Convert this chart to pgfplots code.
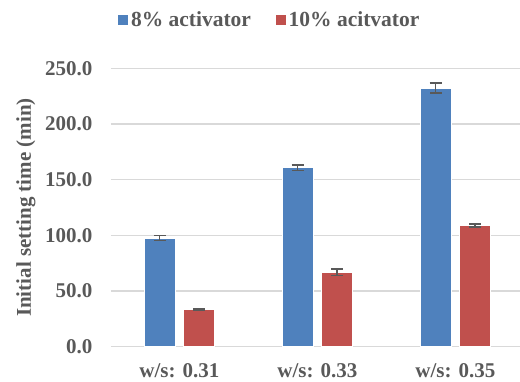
\documentclass[border=0pt]{standalone}
\usepackage{fontspec}
\setmainfont{Liberation Serif}
\usepackage{pgfplots}
\pgfplotsset{compat=1.18}
\definecolor{barblue}{HTML}{4F81BD}
\definecolor{barred}{HTML}{C0504D}
\definecolor{textgray}{HTML}{595959}
\definecolor{gridgray}{HTML}{D9D9D9}
\begin{document}
\begin{tikzpicture}
\path[use as bounding box] (0,0) rectangle (520pt,382pt);
\begin{axis}[
  at={(111pt,35.3pt)}, anchor=south west,
  scale only axis, width=409pt, height=278.4pt,
  xmin=-0.496, xmax=2.468, ymin=0, ymax=250,
  ybar=8.4pt, bar width=31pt,
  axis line style={draw=none},
  major tick length=0pt,
  xtick={0,1,2}, xticklabels={w/s: 0.31, w/s: 0.33, w/s: 0.35},
  ytick={0,50,100,150,200,250},
  ymajorgrids, grid style={draw=gridgray, line width=1.4pt},
  /pgf/number format/.cd, fixed, fixed zerofill, precision=1, assume math mode=true,
  /pgfplots/.cd,
  tick label style={font=\fontsize{21}{24}\selectfont\bfseries, text=textgray},
  yticklabel style={anchor=east, inner sep=0pt, xshift=-18.3pt},
  xticklabel style={anchor=base, inner sep=0pt, yshift=-30.5pt},
  ylabel={Initial setting time (min)},
  every axis y label/.style={at={(axis description cs:-0.2078,0.5)}, rotate=90, anchor=center,
    font=\fontsize{21}{24}\selectfont\bfseries, text=textgray},
  legend columns=2,
  legend style={at={(axis description cs:0.3873,1.1735)}, anchor=center, draw=none,
    font=\fontsize{21.5}{24}\selectfont\bfseries, text=textgray,
    nodes={inner sep=2.5pt},
    /tikz/every even column/.append style={column sep=21pt}},
  legend image code/.code={\fill[#1] (0pt,-5.5pt) rectangle (11pt,5.5pt);},
  error bars/y dir=both, error bars/y explicit,
  error bars/error bar style={draw=textgray, line width=1.5pt},
  error bars/error mark options={rotate=90, mark size=6pt, draw=textgray, line width=1.5pt},
  clip=false,
]
\addplot[fill=barblue, draw=white, line width=0.6pt] coordinates {
  (0,97.6) +- (0,2.4)
  (1,160.7) +- (0,2.5)
  (2,232.3) +- (0,4.3)
};
\addlegendentry{8\% activator}
\addplot[fill=barred, draw=white, line width=0.6pt] coordinates {
  (0,33.4) +- (0,0.3)
  (1,66.8) +- (0,2.8)
  (2,109.0) +- (0,1.3)
};
\addlegendentry{10\% acitvator}
\end{axis}
\end{tikzpicture}
\end{document}
